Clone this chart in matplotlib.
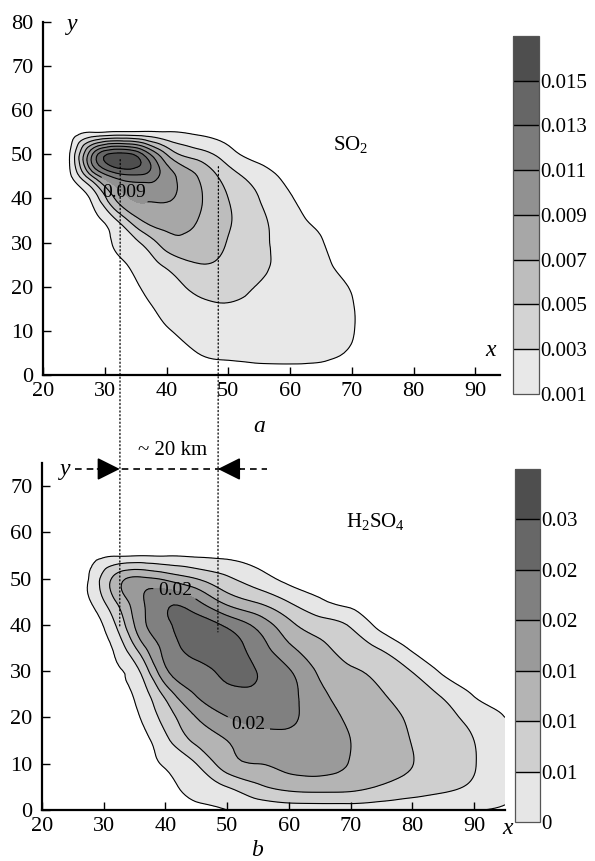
import numpy as np
import matplotlib
matplotlib.use("Agg")
import matplotlib.pyplot as plt
import matplotlib.tri as mtri
from matplotlib.patches import ConnectionPatch

plt.rcParams['font.family'] = ['Liberation Serif', 'DejaVu Serif']
plt.rcParams['mathtext.fontset'] = 'custom'
plt.rcParams['mathtext.rm'] = 'Liberation Serif'
plt.rcParams['mathtext.it'] = 'Liberation Serif:italic'

# grid nodes, km
x_nodes = [20, 24, 28, 32, 36, 40, 45, 50, 55, 60, 65, 70, 75, 80, 85, 90, 95]
y_nodes_a = list(range(0, 81, 5))
y_nodes_b = list(range(0, 76, 5))

# SO2 concentration (units of 1e-3), rows = y_nodes_a
so2 = [
    [0, 0, 0, 0, 0, 0, 0, 0.4, 0.5, 0.5, 0.4, 0, 0, 0, 0, 0, 0],
    [0, 0, 0, 0, 0, 0, 1.0, 1.3, 1.4, 1.4, 1.3, 0.8, 0, 0, 0, 0, 0],
    [0, 0, 0, 0, 0, 0.8, 1.7, 2.1, 2.1, 1.9, 1.6, 1.1, 0, 0, 0, 0, 0],
    [0, 0, 0, 0, 0.5, 1.5, 2.4, 2.8, 2.6, 2.2, 1.7, 1.1, 0, 0, 0, 0, 0],
    [0, 0, 0, 0, 1.1, 2.1, 3.5, 3.6, 2.9, 2.2, 1.5, 0.9, 0, 0, 0, 0, 0],
    [0, 0, 0, 0.5, 1.8, 3.4, 4.9, 4.5, 3.4, 2.3, 1.3, 0.5, 0, 0, 0, 0, 0],
    [0, 0, 0, 1.3, 3.2, 6.0, 6.3, 4.9, 3.5, 2.1, 1.1, 0.1, 0, 0, 0, 0, 0],
    [0, 0, 0.4, 3.0, 7.0, 7.8, 7.0, 5.2, 3.5, 1.7, 0.6, 0, 0, 0, 0, 0, 0],
    [0, 0, 1.5, 7.5, 9.2, 9.2, 7.4, 5.0, 3.0, 1.2, 0, 0, 0, 0, 0, 0, 0],
    [0, 0.3, 7.0, 11.8, 12.5, 10.0, 7.0, 4.0, 2.1, 0.4, 0, 0, 0, 0, 0, 0, 0],
    [0, 0.3, 11.0, 15.6, 13.3, 7.0, 4.0, 1.8, 0.3, 0, 0, 0, 0, 0, 0, 0, 0],
    [0, 0, 1.0, 1.3, 1.3, 1.1, 0.7, 0.3, 0, 0, 0, 0, 0, 0, 0, 0, 0],
    [0] * 17,
    [0] * 17,
    [0] * 17,
    [0] * 17,
    [0] * 17,
]

# H2SO4 concentration (units of 1e-3), rows = y_nodes_b
h2so4 = [
    [0, 0, 0, 0, 0, 0, 0, 1.0, 1.6, 1.8, 1.8, 1.8, 1.7, 1.5, 1.3, 1.1, 0.6],
    [0, 0, 0, 0, 0, 0.3, 2.2, 5.0, 9.0, 11.5, 12.0, 11.5, 9.5, 7.5, 6.0, 4.3, 2.0],
    [0, 0, 0, 0, 0, 1.3, 5.0, 12.8, 15.0, 16.5, 16.8, 14.8, 12.8, 10.1, 7.8, 5.2, 2.5],
    [0, 0, 0, 0, 0.1, 3.8, 11.2, 15.0, 17.8, 18.8, 17.7, 15.0, 12.8, 9.8, 7.5, 5.0, 2.2],
    [0, 0, 0, 0, 1.1, 7.0, 15.0, 19.8, 21.5, 20.8, 17.5, 14.2, 11.8, 9.2, 6.6, 3.5, 1.0],
    [0, 0, 0, 0, 2.5, 11.5, 20.3, 23.5, 24.0, 21.5, 16.2, 12.8, 10.3, 7.8, 4.3, 0.8, 0],
    [0, 0, 0, 0.8, 5.5, 19.0, 23.1, 26.5, 24.8, 20.5, 14.2, 10.8, 8.5, 4.8, 0.5, 0, 0],
    [0, 0, 0, 1.8, 12.5, 21.5, 27.5, 27.5, 22.5, 16.0, 11.5, 7.5, 4.5, 0.5, 0, 0, 0],
    [0, 0, 0, 5.2, 18.0, 24.0, 27.5, 24.0, 18.5, 11.5, 7.1, 4.5, 0, 0, 0, 0, 0],
    [0, 0, 1.1, 10.0, 19.0, 24.0, 21.0, 13.5, 9.5, 4.9, 1.6, 0, 0, 0, 0, 0, 0],
    [0, 0, 1.8, 12.0, 16.0, 14.0, 10.0, 5.8, 2.5, 0.3, 0, 0, 0, 0, 0, 0, 0],
    [0, 0, 0.2, 0.7, 0.9, 0.8, 0.6, 0.4, 0.1, 0, 0, 0, 0, 0, 0, 0, 0],
    [0] * 17,
    [0] * 17,
    [0] * 17,
    [0] * 17,
]

levels_a = [0.001, 0.003, 0.005, 0.007, 0.009, 0.011, 0.013, 0.015, 0.017]
ticklabels_a = ['0.001', '0.003', '0.005', '0.007', '0.009', '0.011', '0.013', '0.015']
colors_a = ['#e8e8e8', '#d3d3d3', '#bdbdbd', '#a7a7a7', '#919191', '#7b7b7b', '#666666', '#4e4e4e']
label_level_a = 0.009
label_pos_a = [(33.5, 42.0)]

levels_b = [0.001, 0.005, 0.010, 0.015, 0.020, 0.025, 0.030, 0.035]
ticklabels_b = ['0', '0.01', '0.01', '0.01', '0.02', '0.02', '0.03']
colors_b = ['#e6e6e6', '#cfcfcf', '#b4b4b4', '#9a9a9a', '#808080', '#676767', '#4e4e4e']
label_level_b = 0.020
label_pos_b = [(41.5, 47.0), (53.5, 18.8)]

# peak positions marked by the dotted lines, and the distance marker
peak_x_so2, peak_y_so2 = 32.5, 48.8
far_x_so2, far_y_so2 = 48.4, 47.2
peak_x_h2so4, end_y_left, end_y_right = 32.6, 39.3, 38.5
far_x_h2so4 = 48.5
marker_y = 73.7


def refined_field(xn, yn, table):
    X, Y = np.meshgrid(xn, yn)
    nx = len(xn)
    tris = []
    for j in range(len(yn) - 1):
        for i in range(nx - 1):
            a = j * nx + i
            tris.append([a, a + 1, a + nx])
            tris.append([a + 1, a + nx + 1, a + nx])
    tri = mtri.Triangulation(X.ravel(), Y.ravel(), np.array(tris))
    z = np.asarray(table, float).ravel() * 1e-3
    return mtri.UniformTriRefiner(tri).refine_field(z, subdiv=3)


def style_axes(ax, xlim, ylim, yticks):
    ax.set_xlim(*xlim)
    ax.set_ylim(*ylim)
    ax.set_xticks([20, 30, 40, 50, 60, 70, 80, 90])
    ax.set_yticks(yticks)
    for s in ['top', 'right']:
        ax.spines[s].set_visible(False)
    for s in ['left', 'bottom']:
        ax.spines[s].set_linewidth(1.6)
        ax.spines[s].set_zorder(5)
    ax.tick_params(direction='in', length=6, width=1, labelsize=16)
    ax.tick_params(axis='x', pad=5)
    ax.tick_params(axis='y', pad=7)
    ax.set_facecolor('none')


def draw_field(ax, tri, z, levels, colors, lab_level, lab_pos, fmt):
    cf = ax.tricontourf(tri, z, levels=levels, colors=colors)
    plain = [v for v in levels[:-1] if abs(v - lab_level) > 1e-9]
    ax.tricontour(tri, z, levels=plain, colors='k', linewidths=0.8)
    cs = ax.tricontour(tri, z, levels=[lab_level], colors='k', linewidths=0.8)
    labs = ax.clabel(cs, manual=lab_pos, inline=True, fmt=fmt, fontsize=14)
    for t in labs:
        t.set_rotation(0)
    return cf


fig = plt.figure(figsize=(5.95, 8.61), dpi=100)
ax1 = fig.add_axes([0.0723, 0.5645, 0.768, 0.4100])
ax2 = fig.add_axes([0.0706, 0.0592, 0.778, 0.4031])
cax1 = fig.add_axes([0.862, 0.5424, 0.0437, 0.4158])
cax2 = fig.add_axes([0.8655, 0.0453, 0.042, 0.4100])

# panel a: SO2
tri_a, z_a = refined_field(x_nodes, y_nodes_a, so2)
cf1 = draw_field(ax1, tri_a, z_a, levels_a, colors_a, label_level_a, label_pos_a, '%.3f')
style_axes(ax1, (20, 94), (0, 80), range(0, 81, 10))
ax1.text(69.8, 52.2, r'SO$_2$', ha='center', va='center', fontsize=15)
ax1.text(23.9, 79.4, 'y', style='italic', fontsize=17, va='center')
ax1.text(91.6, 5.5, 'x', style='italic', fontsize=17, va='center')

# panel b: H2SO4
tri_b, z_b = refined_field(x_nodes, y_nodes_b, h2so4)
cf2 = draw_field(ax2, tri_b, z_b, levels_b, colors_b, label_level_b, label_pos_b, '%.2f')
style_axes(ax2, (20, 95), (0, 75), range(0, 71, 10))
ax2.text(74.1, 62.3, r'H$_2$SO$_4$', ha='center', va='center', fontsize=15)
ax2.text(22.9, 73.5, 'y', style='italic', fontsize=17, va='center')
ax2.text(94.6, -3.9, 'x', style='italic', fontsize=17, va='center')

# colorbars
for cf, cax, lev, labels in [(cf1, cax1, levels_a, ticklabels_a),
                             (cf2, cax2, levels_b, ticklabels_b)]:
    cb = fig.colorbar(cf, cax=cax, drawedges=True)
    cb.set_ticks(lev[:-1])
    cb.set_ticklabels(labels)
    cb.ax.tick_params(length=0, labelsize=15, pad=1)
    cb.outline.set_edgecolor('#555555')
    cb.outline.set_linewidth(0.9)
    cb.dividers.set_color('k')
    cb.dividers.set_linewidth(1.0)

# dotted guides between the two panels
for xa, ya, xb, yb in [(peak_x_so2, peak_y_so2, peak_x_h2so4, end_y_left),
                       (far_x_so2, far_y_so2, far_x_h2so4, end_y_right)]:
    con = ConnectionPatch(xyA=(xa, ya), coordsA=ax1.transData,
                          xyB=(xb, yb), coordsB=ax2.transData,
                          linestyle=(0, (1, 2)), color='k', lw=0.9)
    fig.add_artist(con)

# ~20 km marker
ax2.plot([25.3, 56.4], [marker_y, marker_y], color='k', lw=1.2,
         linestyle=(0, (4, 3)), clip_on=False)
arrow = dict(arrowstyle='-|>,head_length=1.4,head_width=0.7', color='k',
             lw=1.2, shrinkA=0, shrinkB=0)
ax2.annotate('', xy=(peak_x_h2so4, marker_y), xytext=(29.0, marker_y),
             arrowprops=arrow, annotation_clip=False)
ax2.annotate('', xy=(far_x_h2so4, marker_y), xytext=(52.1, marker_y),
             arrowprops=arrow, annotation_clip=False)
ax2.text(41.2, 77.8, '~ 20 km', ha='center', va='center', fontsize=15)

fig.text(259 / 595, 1 - 427 / 861, 'a', style='italic', fontsize=17,
         ha='center', va='center')
fig.text(257 / 595, 1 - 851 / 861, 'b', style='italic', fontsize=17,
         ha='center', va='center')

fig.savefig('out.png', dpi=100)
